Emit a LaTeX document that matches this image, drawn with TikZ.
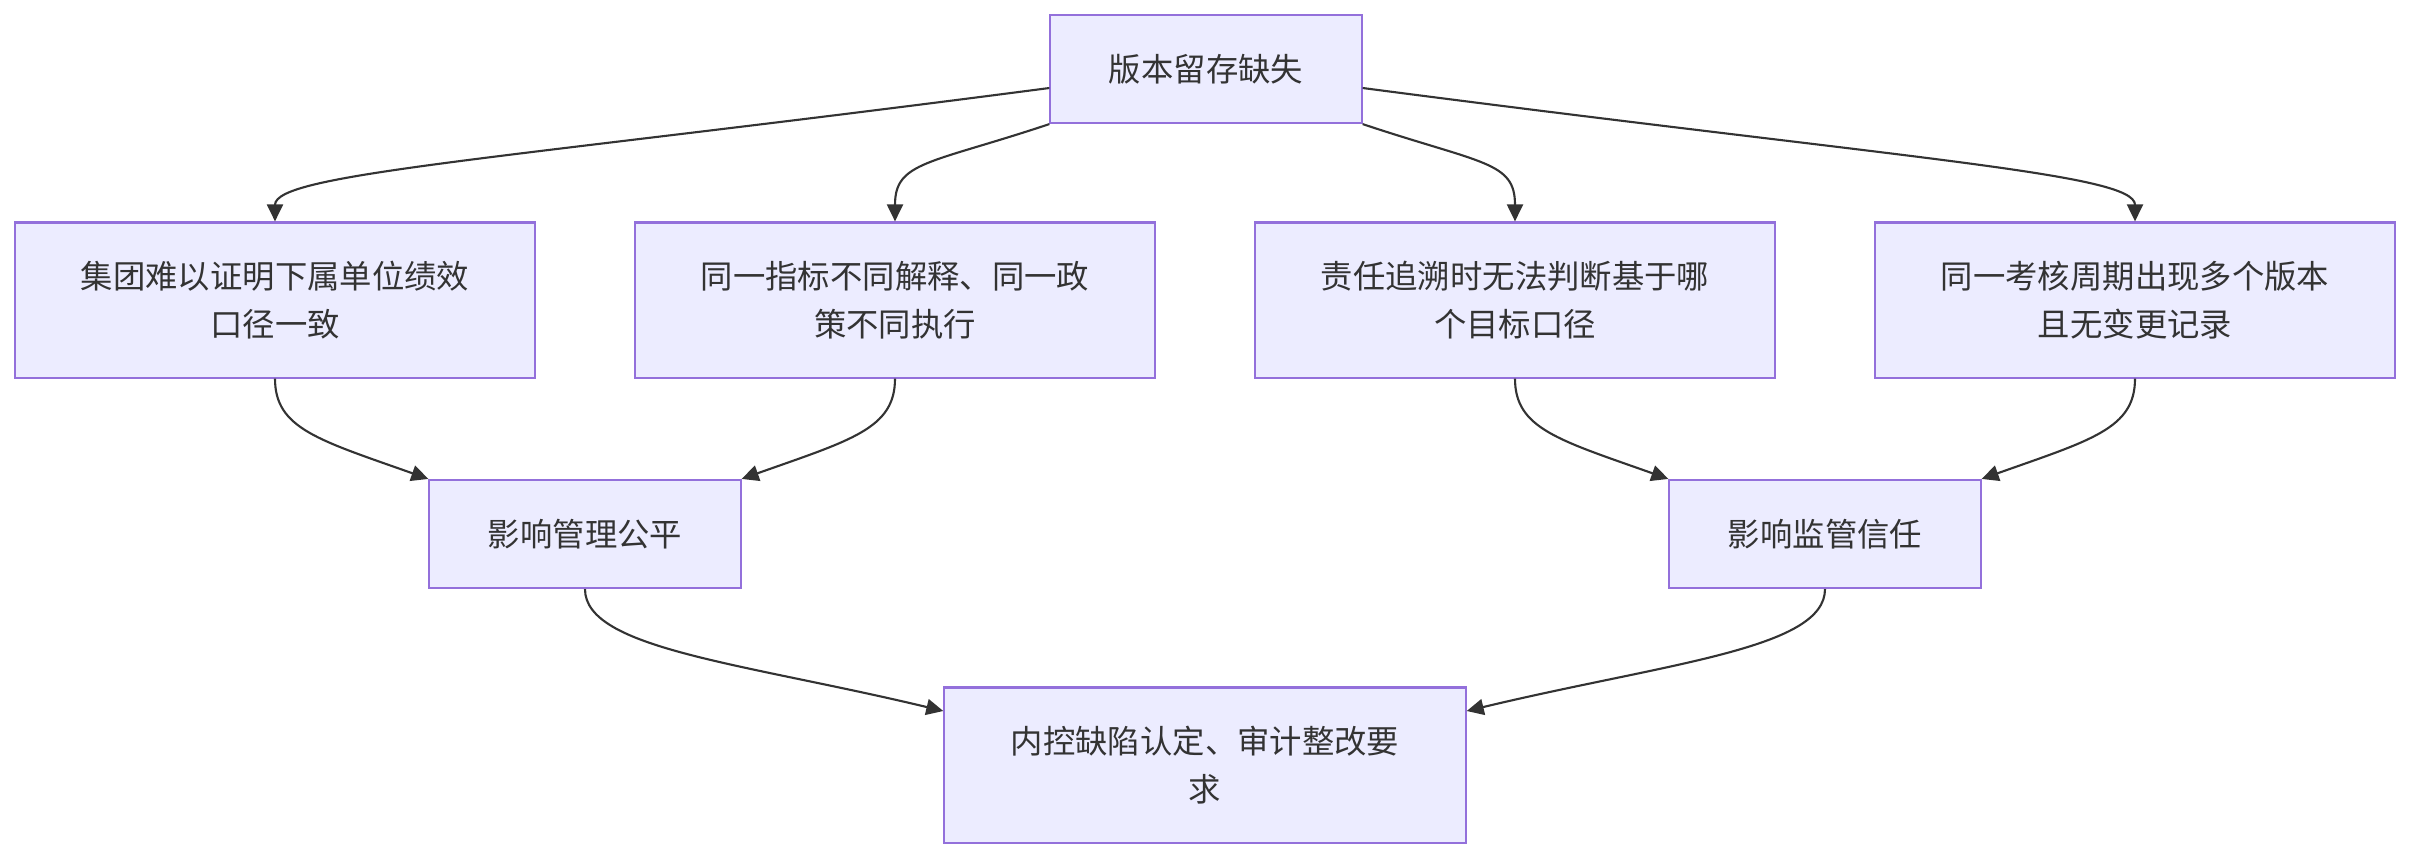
\documentclass[tikz,border=0pt]{standalone}
\usepackage{fontspec}
\setmainfont{Noto Sans CJK SC}
\usetikzlibrary{arrows.meta,positioning,calc}
\definecolor{boxfill}{HTML}{ECECFF}
\definecolor{boxline}{HTML}{9370DB}
\definecolor{ink}{HTML}{333333}

\begin{document}
\begin{tikzpicture}[
  x=0.01cm, y=-0.01cm,
  >={Triangle[length=0.17cm, width=0.16cm]},
  every node/.style={font=\fontsize{9.2pt}{13.6pt}\selectfont, text=ink},
  box/.style={rectangle, draw=boxline, fill=boxfill, line width=0.6pt,
              align=center, inner sep=2pt},
  smallbox/.style={box, minimum width=3.11cm, minimum height=1.08cm},
  widebox/.style={box, minimum width=5.2cm, minimum height=1.55cm},
  edge/.style={->, line width=0.6pt, ink},
]
  \useasboundingbox (0,0) rectangle (2412,860);

  % Root
  \node[smallbox] (root) at (1206,69) {版本留存缺失};

  % Consequences
  \node[widebox] (group)  at (275,300)  {集团难以证明下属单位绩效\\口径一致};
  \node[widebox] (interp) at (895,300)  {同一指标不同解释、同一政\\策不同执行};
  \node[widebox] (trace)  at (1515,300) {责任追溯时无法判断基于哪\\个目标口径};
  \node[widebox] (multi)  at (2135,300) {同一考核周期出现多个版本\\且无变更记录};

  % Impacts
  \node[smallbox] (fair)  at (585,534)  {影响管理公平};
  \node[smallbox] (trust) at (1825,534) {影响监管信任};

  % Outcome
  \node[widebox, minimum width=5.21cm] (defect) at (1205,765)
    {内控缺陷认定、审计整改要\\求};

  % Root to consequences
  \draw[edge] ($(root.west)+(0,19)$) .. controls +(-551,72) and +(0,-48) .. (group.north);
  \draw[edge] (root.south west) .. controls +(-120,40) and +(0,-60) .. (interp.north);
  \draw[edge] (root.south east) .. controls +(120,40) and +(0,-60) .. (trace.north);
  \draw[edge] ($(root.east)+(0,19)$) .. controls +(551,72) and +(0,-48) .. (multi.north);

  % Consequences to impacts
  \draw[edge] (group.south)  .. controls +(0,50) and +(-110,-39) .. (fair.north west);
  \draw[edge] (interp.south) .. controls +(0,50) and +(110,-39)  .. (fair.north east);
  \draw[edge] (trace.south)  .. controls +(0,50) and +(-110,-39) .. (trust.north west);
  \draw[edge] (multi.south)  .. controls +(0,50) and +(110,-39)  .. (trust.north east);

  % Impacts to outcome
  \draw[edge] (fair.south)  .. controls +(0,60) and +(-200,-48) .. ($(defect.west)+(0,-54)$);
  \draw[edge] (trust.south) .. controls +(0,60) and +(200,-48)  .. ($(defect.east)+(0,-54)$);
\end{tikzpicture}
\end{document}
